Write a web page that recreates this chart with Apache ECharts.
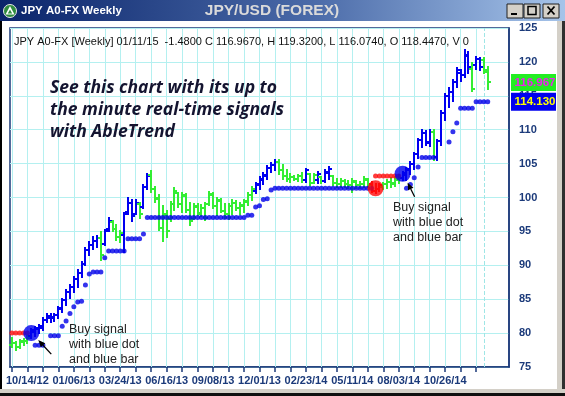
<!DOCTYPE html>
<html>
<head>
<meta charset="utf-8">
<script src="https://cdn.jsdelivr.net/npm/echarts@6/dist/echarts.min.js"></script>
<style>
html,body{margin:0;padding:0;background:#ffffff;overflow:hidden}
#chart{width:565px;height:396px}
</style>
</head>
<body>
<div id="chart"></div>
<script>
// ---------- data ----------
const tickLabels = ['10/14/12','01/06/13','03/24/13','06/16/13','09/08/13','12/01/13','02/23/14','05/11/14','08/03/14','10/26/14'];
const labelFirstBar = 4;
const labelEveryBars = 12;
const gridEveryBars = 4;
const lastGridBar = 120;
const slotCount = 129;
const yTicks = [75, 80, 85, 90, 95, 100, 105, 110, 115, 120, 125];

const opens = [
 78.3,78.5,78.0,78.7,78.9,79.5,80.2,80.6,80.8,82.0,
 82.3,82.2,82.6,83.6,84.9,86.0,86.8,88.0,88.9,90.2,
 92.2,93.0,93.6,94.0,93.2,95.3,96.4,95.4,94.2,94.5,
 97.8,99.2,97.6,99.0,98.6,101.6,103.3,101.2,100.0,95.5,
 97.4,96.8,99.0,100.6,99.0,100.2,98.2,96.8,98.6,97.6,
 98.4,99.0,100.4,98.8,99.5,98.0,97.5,98.7,99.2,98.5,
 98.8,99.4,100.3,101.0,101.8,102.6,103.2,104.3,104.8,105.3,
 104.0,103.2,102.8,103.0,102.8,103.1,102.6,103.4,102.2,102.6,
 103.0,102.4,103.6,103.2,102.2,102.0,102.4,102.0,101.8,102.3,
 101.8,102.0,102.6,102.0,101.0,101.3,101.6,102.0,102.3,102.0,
 102.6,102.9,103.3,104.0,105.0,106.4,108.5,109.5,108.0,109.6,
 106.0,108.3,112.4,115.0,115.5,117.0,118.3,118.0,120.8,119.0,
 119.6,120.4,120.3,118.447];
const highs = [
 79.3,78.7,79.0,79.1,79.5,80.6,80.9,81.2,82.2,82.8,
 82.8,82.8,83.9,85.1,86.4,87.1,88.3,89.3,90.5,92.6,
 93.4,94.2,94.3,94.9,95.2,97.0,96.6,95.9,95.0,97.7,
 99.9,99.6,99.6,99.2,101.8,103.5,103.9,101.5,100.3,98.8,
 98.0,99.3,101.4,100.7,100.7,100.5,99.2,99.1,99.1,98.9,
 99.2,100.8,100.7,100.0,99.8,99.0,99.0,99.7,99.5,99.2,
 99.7,100.6,101.6,102.2,103.0,103.6,104.7,105.1,105.5,105.6,
 104.8,104.0,103.5,103.2,103.3,103.6,104.2,103.5,103.5,103.7,
 103.0,104.1,104.5,103.2,102.8,102.7,102.6,102.4,102.8,102.4,
 102.3,103.0,102.8,102.3,102.0,102.0,102.2,102.6,102.9,103.0,
 103.3,103.8,104.4,105.2,106.6,108.7,110.0,109.8,110.0,110.0,
 108.5,112.8,115.3,116.2,117.3,119.1,118.8,121.8,121.5,119.8,
 120.7,120.6,120.6,119.32];
const lows = [
 77.9,77.5,77.8,78.2,78.5,79.3,79.6,80.0,80.4,81.6,
 81.7,81.8,82.3,83.1,84.1,85.2,86.1,86.8,88.3,90.0,
 91.5,92.4,92.7,90.8,93.0,95.0,95.0,93.7,93.4,92.0,
 97.5,96.6,97.5,97.0,98.4,101.3,100.8,99.3,95.2,93.6,
 94.2,96.6,98.2,98.6,97.8,97.8,96.0,96.8,97.4,97.2,
 96.7,98.9,98.4,97.4,97.8,97.0,96.8,97.5,98.2,97.6,
 97.9,98.9,99.6,100.6,101.3,102.0,102.7,103.8,104.0,103.5,
 102.8,102.4,102.3,102.6,102.4,102.3,102.3,101.8,102.2,102.2,
 102.2,102.3,102.8,101.8,101.6,101.6,101.5,101.4,100.8,101.4,
 101.4,101.5,101.6,100.8,100.6,100.9,101.2,101.4,101.6,101.7,
 102.1,102.6,102.6,103.5,104.2,105.8,107.5,107.8,107.6,105.6,
 105.6,107.8,111.5,113.3,114.2,116.3,117.2,117.8,118.3,115.7,
 119.0,118.8,118.4,116.074];
const closes = [
 78.6,77.9,78.8,78.9,79.3,80.4,80.7,81.0,82.0,82.5,
 82.4,82.6,83.7,84.9,86.1,86.8,88.0,88.9,90.2,92.2,
 93.0,93.6,94.0,91.5,95.0,96.5,95.4,94.2,94.8,97.5,
 99.2,97.3,99.2,97.6,101.5,103.2,101.2,99.8,95.5,97.5,
 95.0,99.0,101.0,99.0,100.3,98.2,96.6,98.8,97.7,98.5,
 97.0,100.5,98.8,99.6,98.0,97.5,98.7,99.2,98.5,98.9,
 99.5,100.3,101.3,102.0,102.8,103.3,104.4,104.8,105.2,104.0,
 103.2,102.8,103.0,102.8,103.1,102.6,104.0,102.1,103.3,103.4,
 102.4,103.8,104.2,102.2,102.0,102.4,102.0,101.8,102.5,101.8,
 102.0,102.7,101.8,101.0,101.2,101.8,102.0,102.3,102.1,102.8,
 102.9,103.6,104.2,105.0,106.4,108.5,109.5,108.2,109.6,106.0,
 108.3,112.5,114.9,115.5,117.0,118.8,118.0,121.0,119.2,116.0,
 120.4,119.3,118.8,116.967];
// G = green (neutral), B = blue (up), R = red (down), one letter per bar
const barSignals = ('GGGGGBBBBB' + 'BBBBBBBBBB' + 'BBBGBBGGGB' + 'BBBGBBGGGG' +
  'GGGGGGGGGG' + 'GGGGGGGGGG' + 'GGGBBBBBBG' + 'GGGGGGBGGB' + 'GBBGGGGGGG' +
  'GGGRRRGGGG' + 'GBBBBBBBBG' + 'BBBBBBBBBG' + 'BBGG').split('');

const blueStops = [
 null,null,null,null,null,null,78.2,78.2,78.2,null,
 79.6,79.6,79.6,81.0,81.8,82.9,83.9,84.6,84.7,87.1,
 88.7,89.0,89.0,89.0,91.1,92.1,92.1,92.1,92.1,92.1,
 93.9,93.9,93.9,93.9,94.6,97.05,97.05,97.05,97.05,97.05,
 97.05,97.05,97.05,97.05,97.05,97.05,97.05,97.05,97.05,97.05,
 97.05,97.05,97.05,97.05,97.05,97.05,97.05,97.05,97.05,97.05,
 97.05,97.4,97.4,98.6,98.8,99.7,99.8,101.1,101.35,101.35,
 101.35,101.35,101.35,101.35,101.35,101.35,101.35,101.35,101.35,101.35,
 101.35,101.35,101.35,101.35,101.35,101.35,101.35,101.35,101.35,101.35,
 101.35,101.35,101.35,101.35,null,null,null,null,null,null,
 null,null,101.35,101.9,102.9,104.5,105.9,105.9,105.9,105.9,
 null,null,null,108.2,109.7,111.0,113.15,113.15,113.15,113.15,
 114.13,114.13,114.13,114.13];
const redStops = [
 80.0,80.0,80.0,80.0,80.0,null,null,null,null,null,
 null,null,null,null,null,null,null,null,null,null,
 null,null,null,null,null,null,null,null,null,null,
 null,null,null,null,null,null,null,null,null,null,
 null,null,null,null,null,null,null,null,null,null,
 null,null,null,null,null,null,null,null,null,null,
 null,null,null,null,null,null,null,null,null,null,
 null,null,null,null,null,null,null,null,null,null,
 null,null,null,null,null,null,null,null,null,null,
 null,null,null,null,103.17,103.17,103.17,103.17,103.17,103.17,
 103.17,null,null,null,null,null,null,null,null,null,
 null,null,null,null,null,null,null,null,null,null,
 null,null,null,null];
const buySignals = [[5, 80.0], [101, 103.5]];
const sellSignals = [[94, 101.35]];
const lastClose = 116.967;
const lastStop = 114.13;
const lastBarSlot = 122;
const infoLine = 'JPY A0-FX [Weekly] 01/11/15  -1.4800 C 116.9670, H 119.3200, L 116.0740, O 118.4470, V 0';

// ---------- chart ----------
const cats = [];
for (let i = 0; i < slotCount; i++) cats.push(String(i));
const gridBars = [];
for (let i = 0; i <= lastGridBar; i += gridEveryBars) gridBars.push(i);

const barColors = {G: '#33ee33', B: '#0000f0', R: '#ff0a0a'};
const navy = '#1b3a7a';
const gridCyan = '#b4f0f0';

const ohlcData = opens.map((o, i) => [i, o, highs[i], lows[i], closes[i]]);
const toPairs = arr => arr.map((v, i) => v == null ? null : [i, v]).filter(p => p);

const chart = echarts.init(document.getElementById('chart'), null, {width: 565, height: 396, renderer: 'canvas'});

const option = {
  animation: false,
  backgroundColor: '#ffffff',
  grid: {left: 10, top: 28, width: 499, height: 339, show: true, borderColor: navy, borderWidth: 1.5, backgroundColor: '#ffffff'},
  xAxis: {
    type: 'category', data: cats, boundaryGap: true,
    axisLine: {show: true, lineStyle: {color: navy, width: 1.5}},
    axisTick: {show: true, alignWithLabel: true, length: 5, interval: (idx) => idx % gridEveryBars === 0 && idx <= lastGridBar, lineStyle: {color: navy, width: 1.5}},
    axisLabel: {
      interval: (idx) => idx >= labelFirstBar && (idx - labelFirstBar) % labelEveryBars === 0 && (idx - labelFirstBar) / labelEveryBars < tickLabels.length,
      formatter: (v, idx) => tickLabels[(Number(v) - labelFirstBar) / labelEveryBars] || '',
      color: navy, fontWeight: 'bold', fontSize: 11, fontFamily: 'Liberation Sans, Arial, sans-serif', margin: 8
    },
    splitLine: {show: false}
  },
  yAxis: {
    type: 'value', position: 'right', min: yTicks[0], max: yTicks[yTicks.length - 1], interval: 5,
    axisLine: {show: true, lineStyle: {color: navy, width: 1.5}},
    axisTick: {show: false},
    axisLabel: {color: navy, fontWeight: 'bold', fontSize: 11, fontFamily: 'Liberation Sans, Arial, sans-serif', margin: 10},
    splitLine: {show: true, lineStyle: {color: gridCyan, width: 1}}
  },
  series: [
    {
      type: 'scatter', name: 'grid', data: [], z: 1, silent: true,
      markLine: {
        silent: true, symbol: 'none', z: 1, label: {show: false}, animation: false,
        data: gridBars.map(i => ({xAxis: String(i), lineStyle: {type: 'solid', color: gridCyan, width: 1}}))
          .concat([{xAxis: String(lastBarSlot), lineStyle: {type: 'dashed', color: '#9fe6e6', width: 1}}])
      }
    },
    {
      type: 'custom', name: 'bars', data: ohlcData, encode: {x: 0, y: [1, 2, 3, 4]},
      renderItem: function (params, api) {
        const i = api.value(0);
        const x = Math.round(api.coord([i, api.value(2)])[0]);
        const yO = Math.round(api.coord([i, api.value(1)])[1]);
        const yH = Math.round(api.coord([i, api.value(2)])[1]);
        const yL = Math.round(api.coord([i, api.value(3)])[1]);
        const yC = Math.round(api.coord([i, api.value(4)])[1]);
        const col = barColors[barSignals[params.dataIndex]];
        return {type: 'group', children: [
          {type: 'line', shape: {x1: x, y1: yH - 1, x2: x, y2: yL + 1}, style: {stroke: col, lineWidth: 2}},
          {type: 'line', shape: {x1: x - 3, y1: yO, x2: x, y2: yO}, style: {stroke: col, lineWidth: 2}},
          {type: 'line', shape: {x1: x, y1: yC, x2: x + 3, y2: yC}, style: {stroke: col, lineWidth: 2}}
        ]};
      },
      z: 3
    },
    {type: 'scatter', name: 'blueStop', data: toPairs(blueStops), symbol: 'circle', symbolSize: 5, itemStyle: {color: '#0000e8'}, z: 4},
    {type: 'scatter', name: 'redStop', data: toPairs(redStops), symbol: 'circle', symbolSize: 5, itemStyle: {color: '#ff0a0a'}, z: 4},
    {type: 'scatter', name: 'buy', data: buySignals, symbol: 'circle', symbolSize: 16, itemStyle: {color: '#0000ee'}, z: 5},
    {type: 'scatter', name: 'sell', data: sellSignals, symbol: 'circle', symbolSize: 16, itemStyle: {color: '#ff0a0a'}, z: 5}
  ]
};
chart.setOption(option);

// ---------- decorations (window frame, texts, price boxes) ----------
const pix = (i, v) => chart.convertToPixel({gridIndex: 0}, [i, v]);
const yOf = v => chart.convertToPixel({yAxisIndex: 0}, v);

function arrow(tail, tip) {
  const dx = tip[0] - tail[0], dy = tip[1] - tail[1];
  const len = Math.sqrt(dx * dx + dy * dy);
  const ux = dx / len, uy = dy / len;
  const bx = tip[0] - ux * 7, by = tip[1] - uy * 7;
  return [
    {type: 'line', shape: {x1: tail[0], y1: tail[1], x2: bx, y2: by}, style: {stroke: '#000000', lineWidth: 1.3}, z: 20},
    {type: 'polygon', shape: {points: [[tip[0], tip[1]], [bx - uy * 3, by + ux * 3], [bx + uy * 3, by - ux * 3]]}, style: {fill: '#000000'}, z: 20}
  ];
}
const b1 = pix(buySignals[0][0], buySignals[0][1]);
const b2 = pix(buySignals[1][0], buySignals[1][1]);

const infoFont = '11px "Liberation Sans", Arial, sans-serif';
const noteFont = '12.5px "Liberation Sans", Arial, sans-serif';
const boldItalic = 'italic bold 17.5px "Open Sans", "Liberation Sans", sans-serif';

const titleGrad = new echarts.graphic.LinearGradient(0, 0, 1, 0, [
  {offset: 0, color: '#0a246a'}, {offset: 0.55, color: '#4a6aa8'}, {offset: 1, color: '#a6c4ea'}
]);

function button(x, kind) {
  const els = [{type: 'rect', shape: {x: x, y: 4, width: 16, height: 14}, style: {fill: '#d4d0c8', stroke: '#202020', lineWidth: 1}, z: 30}];
  if (kind === 'min') els.push({type: 'rect', shape: {x: x + 4, y: 13, width: 6, height: 2}, style: {fill: '#000'}, z: 31});
  if (kind === 'max') els.push({type: 'rect', shape: {x: x + 4, y: 6.5, width: 8, height: 8}, style: {fill: 'none', stroke: '#000', lineWidth: 1.5}, z: 31});
  if (kind === 'close') {
    els.push({type: 'line', shape: {x1: x + 4.5, y1: 6.5, x2: x + 11.5, y2: 14.5}, style: {stroke: '#000', lineWidth: 1.8}, z: 31});
    els.push({type: 'line', shape: {x1: x + 11.5, y1: 6.5, x2: x + 4.5, y2: 14.5}, style: {stroke: '#000', lineWidth: 1.8}, z: 31});
  }
  return els;
}

const yG = yOf(lastClose), yB = yOf(lastStop);
const graphics = [].concat(
  [
    {type: 'rect', shape: {x: 0, y: 0, width: 565, height: 21}, style: {fill: titleGrad}, z: 10},
    {type: 'circle', shape: {cx: 10, cy: 11, r: 6.5}, style: {fill: '#2e8b3e', stroke: '#e8e8e8', lineWidth: 1}, z: 11},
    {type: 'polygon', shape: {points: [[10, 6], [14.5, 14.5], [5.5, 14.5]]}, style: {fill: '#ffffff'}, z: 12},
    {type: 'polygon', shape: {points: [[10, 9.5], [12.2, 13.5], [7.8, 13.5]]}, style: {fill: '#2e8b3e'}, z: 13},
    {type: 'text', style: {text: 'JPY A0-FX Weekly', x: 21, y: 11, fill: '#ffffff', font: 'bold 11.5px "Liberation Sans", Arial, sans-serif', verticalAlign: 'middle'}, z: 12},
    {type: 'text', style: {text: 'JPY/USD (FOREX)', x: 272, y: 11, fill: '#dadada', font: 'bold 15.5px "Liberation Sans", Arial, sans-serif', align: 'center', verticalAlign: 'middle'}, z: 12}
  ],
  button(507, 'min'), button(524, 'max'), button(543, 'close'),
  [
    {type: 'rect', shape: {x: 0, y: 21, width: 2, height: 375}, style: {fill: '#000000'}, z: 10},
    {type: 'rect', shape: {x: 557, y: 21, width: 8, height: 375}, style: {fill: '#d4d0c8'}, z: 10},
    {type: 'rect', shape: {x: 562, y: 21, width: 3, height: 375}, style: {fill: '#303030'}, z: 10},
    {type: 'rect', shape: {x: 0, y: 389, width: 565, height: 7}, style: {fill: '#d4d0c8'}, z: 10},
    {type: 'rect', shape: {x: 0, y: 393, width: 565, height: 3}, style: {fill: '#101010'}, z: 10},
    {type: 'text', style: {text: infoLine, x: 14, y: 42, fill: '#111111', font: infoFont, verticalAlign: 'middle'}, z: 12},
    {type: 'text', style: {text: 'See this chart with its up to', x: 50, y: 88, fill: '#141430', font: boldItalic, verticalAlign: 'middle'}, z: 12},
    {type: 'text', style: {text: 'the minute real-time signals', x: 50, y: 110, fill: '#141430', font: boldItalic, verticalAlign: 'middle'}, z: 12},
    {type: 'text', style: {text: 'with AbleTrend', x: 50, y: 132, fill: '#141430', font: boldItalic, verticalAlign: 'middle'}, z: 12},
    {type: 'text', style: {text: 'Buy signal\nwith blue dot\nand blue bar', x: 69, y: 322, fill: '#222222', font: noteFont, lineHeight: 15}, z: 12},
    {type: 'text', style: {text: 'Buy signal\nwith blue dot\nand blue bar', x: 393, y: 200, fill: '#222222', font: noteFont, lineHeight: 15}, z: 12},
    {type: 'rect', shape: {x: 511, y: yG - 8.5, width: 45, height: 17}, style: {fill: '#22ee22'}, z: 15},
    {type: 'text', style: {text: lastClose.toFixed(3), x: 535, y: yG, fill: '#ee22ee', font: 'bold 11.5px "Liberation Sans", Arial, sans-serif', align: 'center', verticalAlign: 'middle'}, z: 16},
    {type: 'rect', shape: {x: 511, y: yB - 9, width: 45, height: 18}, style: {fill: '#0000ee'}, z: 15},
    {type: 'text', style: {text: lastStop.toFixed(3), x: 535, y: yB, fill: '#ffff00', font: 'bold 11.5px "Liberation Sans", Arial, sans-serif', align: 'center', verticalAlign: 'middle'}, z: 16}
  ],
  arrow([b1[0] + 20, b1[1] + 21], [b1[0] + 7, b1[1] + 7]),
  arrow([b2[0] + 12, b2[1] + 23], [b2[0] + 5, b2[1] + 9])
);
chart.setOption({graphic: graphics});
</script>
</body>
</html>
